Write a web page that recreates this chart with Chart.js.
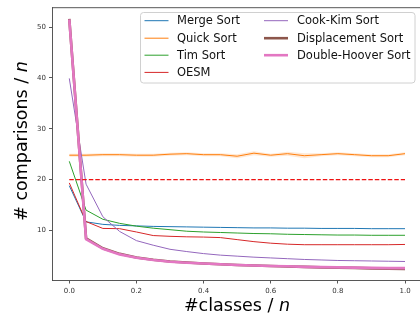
<!DOCTYPE html>
<html>
<head>
<meta charset="utf-8">
<script src="https://cdn.jsdelivr.net/npm/chart.js@4.4.1/dist/chart.umd.min.js"></script>
<style>
  html, body { margin: 0; padding: 0; background: #fff; overflow: hidden; }
  #wrap { width: 424px; height: 322px; }
</style>
</head>
<body>
<div id="wrap"><canvas id="chart"></canvas></div>
<script>
// fraction of distinct classes, x axis
const classFrac = [0, 0.05, 0.1, 0.15, 0.2, 0.25, 0.3, 0.35, 0.4, 0.45, 0.5,
                   0.55, 0.6, 0.65, 0.7, 0.75, 0.8, 0.85, 0.9, 0.95, 1.0];

const mergeSort = [18.8, 11.7, 11.2, 11.0, 10.9, 10.8, 10.75, 10.7, 10.65, 10.6, 10.55,
                   10.5, 10.5, 10.45, 10.45, 10.4, 10.4, 10.4, 10.35, 10.35, 10.35];
const quickSort = [24.8, 24.8, 24.9, 24.9, 24.8, 24.8, 25.0, 25.1, 24.9, 24.9, 24.6,
                   25.2, 24.8, 25.1, 24.7, 24.9, 25.1, 24.9, 24.7, 24.7, 25.1];
const quickLow  = [24.5, 24.5, 24.6, 24.6, 24.5, 24.5, 24.7, 24.8, 24.6, 24.6, 24.2,
                   24.8, 24.5, 24.7, 24.2, 24.6, 24.8, 24.6, 24.4, 24.4, 24.8];
const quickHigh = [25.1, 25.1, 25.2, 25.2, 25.1, 25.1, 25.3, 25.4, 25.2, 25.2, 25.0,
                   25.6, 25.1, 25.5, 25.2, 25.2, 25.4, 25.2, 25.0, 25.0, 25.4];
const timSort   = [23.6, 14.0, 12.2, 11.4, 10.85, 10.45, 10.15, 9.85, 9.7, 9.6, 9.5,
                   9.4, 9.35, 9.25, 9.2, 9.15, 9.1, 9.1, 9.05, 9.05, 9.05];
const oesm      = [19.35, 11.75, 10.4, 10.35, 9.7, 9.0, 8.85, 8.75, 8.7, 8.6, 8.2,
                   7.8, 7.5, 7.3, 7.2, 7.2, 7.2, 7.2, 7.2, 7.2, 7.25];
const cookKim   = [39.9, 19.1, 12.7, 9.8, 8.0, 7.1, 6.3, 5.85, 5.45, 5.15, 4.95,
                   4.75, 4.6, 4.45, 4.3, 4.2, 4.1, 4.05, 4.0, 3.95, 3.9];
const displacement = [51.6, 8.45, 6.5, 5.4, 4.7, 4.25, 3.9, 3.7, 3.5, 3.35, 3.2,
                      3.1, 3.0, 2.9, 2.85, 2.75, 2.7, 2.65, 2.55, 2.5, 2.45];
const doubleHoover = [51.5, 8.3, 6.4, 5.3, 4.65, 4.2, 3.85, 3.65, 3.5, 3.35, 3.2,
                      3.1, 3.0, 2.95, 2.85, 2.8, 2.75, 2.7, 2.65, 2.6, 2.6];

// the dashed reference line
const refX = [0, 1];
const refY = [20, 20];

const xTicks = [0, 0.2, 0.4, 0.6, 0.8, 1.0];
const yTicks = [10, 20, 30, 40, 50];

const series = [
    { label: "Merge Sort", data: mergeSort, color: "#1f77b4", width: 1 },
    { label: "Quick Sort", data: quickSort, color: "#ff7f0e", width: 1 },
    { label: "Tim Sort", data: timSort, color: "#2ca02c", width: 1 },
    { label: "OESM", data: oesm, color: "#d62728", width: 1 },
    { label: "Cook-Kim Sort", data: cookKim, color: "#9467bd", width: 1 },
    { label: "Displacement Sort", data: displacement, color: "#8c564b", width: 2.6 },
    { label: "Double-Hoover Sort", data: doubleHoover, color: "#e377c2", width: 2.6 }
];

const pts = arr => classFrac.map((x, i) => ({ x: x, y: arr[i] }));

const datasets = [];
// shaded band for quick sort
datasets.push({
    label: "qhigh", data: pts(quickHigh), borderWidth: 0, pointRadius: 0,
    backgroundColor: "rgba(255,127,14,0.18)", fill: "+1", order: 20
});
datasets.push({
    label: "qlow", data: pts(quickLow), borderWidth: 0, pointRadius: 0,
    fill: false, order: 21
});
series.forEach((s, i) => {
    datasets.push({
        label: s.label, data: pts(s.data),
        borderColor: s.color, borderWidth: s.width,
        pointRadius: 0, fill: false, tension: 0,
        order: 10 - i
    });
});
datasets.push({
    label: "ref", data: refX.map((x, i) => ({ x: x, y: refY[i] })),
    borderColor: "#ee1111", borderWidth: 1.1, borderDash: [4.5, 2],
    pointRadius: 0, fill: false, order: 0
});

function drawMixed(ctx, parts, cx, cy) {
    let total = 0;
    parts.forEach(p => { ctx.font = p.font; total += ctx.measureText(p.text).width; });
    let x = cx - total / 2;
    ctx.textAlign = "left";
    ctx.textBaseline = "middle";
    parts.forEach(p => {
        ctx.font = p.font;
        ctx.fillText(p.text, x, cy);
        x += ctx.measureText(p.text).width;
    });
}

const decorPlugin = {
    id: "decor",
    afterDraw(chart) {
        const ctx = chart.ctx;
        const a = chart.chartArea;
        ctx.save();
        // top spine
        ctx.strokeStyle = "#444";
        ctx.lineWidth = 0.9;
        ctx.beginPath();
        ctx.moveTo(a.left, a.top + 0.5);
        ctx.lineTo(a.right, a.top + 0.5);
        ctx.stroke();

        // axis titles
        ctx.fillStyle = "#000";
        const reg = "17.5px 'DejaVu Sans'";
        const ita = "italic 17.5px 'DejaVu Sans'";
        drawMixed(ctx, [{ text: "#classes / ", font: reg }, { text: "n", font: ita }], 237, 306);
        ctx.save();
        ctx.translate(22, 141);
        ctx.rotate(-Math.PI / 2);
        drawMixed(ctx, [{ text: "# comparisons / ", font: reg }, { text: "n", font: ita }], 0, 0);
        ctx.restore();

        // legend, two columns filled top to bottom
        const bx = 140.5, by = 12.5, bw = 274.5, bh = 70.5;
        ctx.fillStyle = "rgba(255,255,255,0.85)";
        ctx.strokeStyle = "#d0d0d0";
        ctx.lineWidth = 1;
        ctx.beginPath();
        ctx.roundRect(bx, by, bw, bh, 3);
        ctx.fill();
        ctx.stroke();
        const rows = [20.7, 38.2, 55.2, 72.4];
        const cols = [{ l0: 144.5, l1: 168.5, t: 177 }, { l0: 264, l1: 288, t: 297 }];
        ctx.font = "11.5px 'DejaVu Sans'";
        ctx.textAlign = "left";
        ctx.textBaseline = "middle";
        series.forEach((s, i) => {
            const c = cols[Math.floor(i / 4)];
            const y = rows[i % 4];
            ctx.strokeStyle = s.color;
            ctx.lineWidth = s.width;
            ctx.beginPath();
            ctx.moveTo(c.l0, y);
            ctx.lineTo(c.l1, y);
            ctx.stroke();
            ctx.fillStyle = "#111";
            ctx.fillText(s.label, c.t, y + 0.5);
        });
        ctx.restore();
    }
};

const axisCommon = {
    type: "linear",
    grid: { display: true, drawOnChartArea: false, drawTicks: true, tickLength: 3.5, color: "#444", lineWidth: 0.9 },
    border: { display: true, color: "#444", width: 0.9 },
    ticks: { color: "#333", font: { family: "DejaVu Sans", size: 7 }, padding: 3 }
};

new Chart(document.getElementById("chart").getContext("2d"), {
    type: "line",
    data: { datasets: datasets },
    plugins: [decorPlugin],
    options: {
        responsive: true,
        maintainAspectRatio: false,
        animation: false,
        devicePixelRatio: 1,
        layout: { padding: { top: 6, right: 2.2, left: 0, bottom: 0 } },
        plugins: { legend: { display: false }, tooltip: { enabled: false } },
        scales: {
            x: {
                ...axisCommon,
                min: -0.05, max: 1.05,
                afterBuildTicks: s => { s.ticks = xTicks.map(v => ({ value: v })); },
                afterFit: s => { s.height = 42; },
                ticks: { ...axisCommon.ticks, maxRotation: 0, callback: v => v.toFixed(1) }
            },
            y: {
                ...axisCommon,
                min: 0.26, max: 53.9,
                afterBuildTicks: s => { s.ticks = yTicks.map(v => ({ value: v })); },
                afterFit: s => { s.width = 52.5; },
                ticks: { ...axisCommon.ticks, callback: v => String(v) }
            }
        }
    }
});
</script>
</body>
</html>
